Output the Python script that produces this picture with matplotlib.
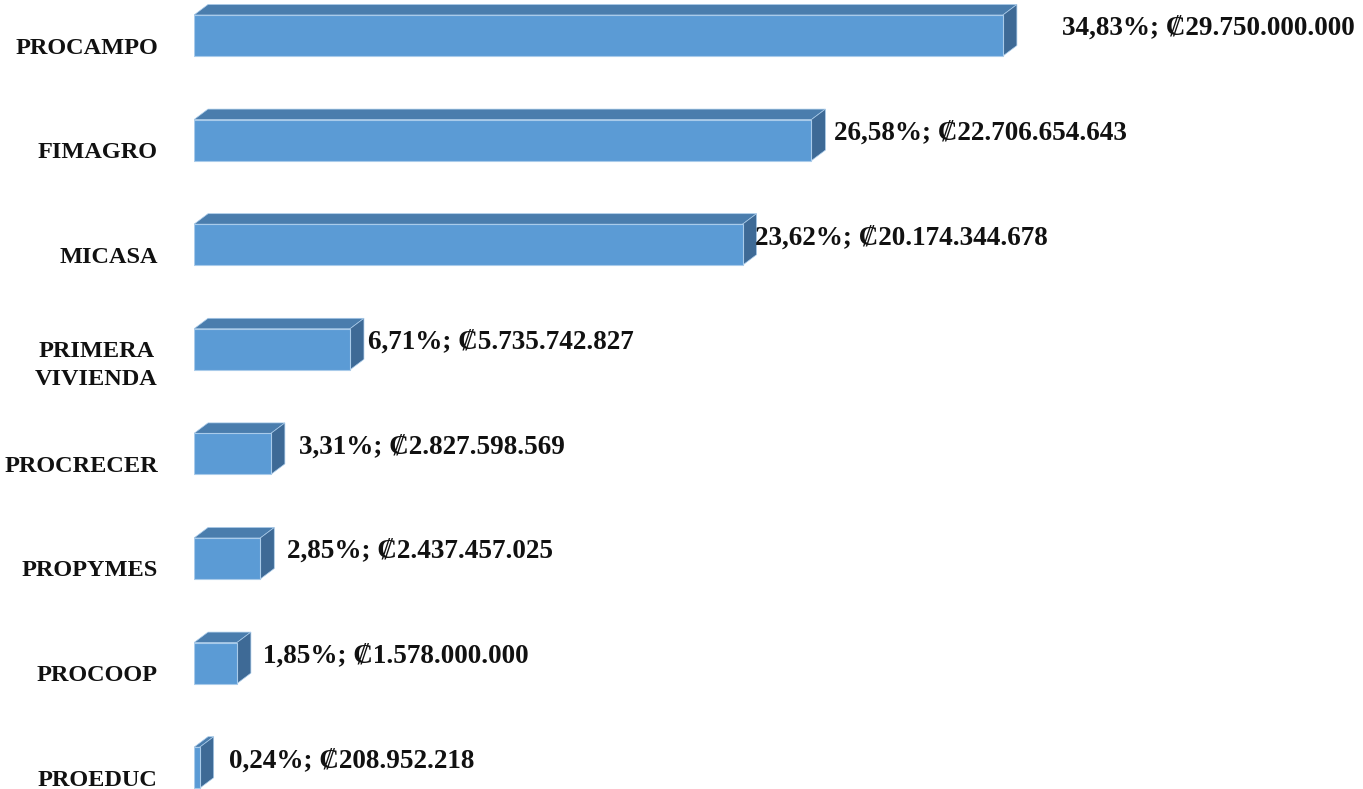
import numpy as np
import matplotlib
matplotlib.use("Agg")
import matplotlib.pyplot as plt
from matplotlib.patches import Polygon
from matplotlib.transforms import ScaledTranslation

programs = ["PROCAMPO", "FIMAGRO", "MICASA", "PRIMERA\nVIVIENDA",
            "PROCRECER", "PROPYMES", "PROCOOP", "PROEDUC"]
amounts = [29750000000, 22706654643, 20174344678, 5735742827,
           2827598569, 2437457025, 1578000000, 208952218]

# label gap after the bar (px), hand-placed in the original
label_gap = [59, 23, 12, 18, 28, 27, 26, 29]

front = "#5B9BD5"
top = "#4A7DAD"
side = "#3E6A96"
edge = "#A9CBEA"
font = ["Liberation Serif", "DejaVu Serif"]

W, H, dpi = 1363, 789, 100
fig = plt.figure(figsize=(W / dpi, H / dpi), dpi=dpi)
left = 194
ax = fig.add_axes([left / W, 0, 1 - left / W, 1])

vals = np.array(amounts) / 1e9
pos = np.arange(len(programs))
px_per_x = 27.19
px_per_row = 104.6
ax.set_xlim(0, (W - left) / px_per_x)
ax.set_ylim((H - 35.5) / px_per_row, -35.5 / px_per_row)

bar_h = 41 / px_per_row
dx = 14 / px_per_x
dy = 10.5 / px_per_row

ax.barh(pos, vals, height=bar_h, color=front, edgecolor=edge, linewidth=0.8, zorder=3)
for p, v in zip(pos, vals):
    y0 = p - bar_h / 2
    y1 = p + bar_h / 2
    ax.add_patch(Polygon([(0, y0), (v, y0), (v + dx, y0 - dy), (dx, y0 - dy)],
                         closed=True, facecolor=top, edgecolor=edge, linewidth=0.5, zorder=2))
    ax.add_patch(Polygon([(v, y0), (v + dx, y0 - dy), (v + dx, y1 - dy), (v, y1)],
                         closed=True, facecolor=side, edgecolor=edge, linewidth=0.5, zorder=2))

total = sum(amounts)
for p, v, a, g in zip(pos, vals, amounts, label_gap):
    pct = f"{a / total * 100:.2f}".replace(".", ",")
    money = f"{a:,}".replace(",", ".")
    ax.annotate(f"{pct}%; \u20a1{money}", xy=(v, p), xytext=(g * 0.72, 7 * 0.72),
                textcoords="offset points", ha="left", va="center",
                fontsize=19.5, fontweight="bold", family=font, color="#111111")

ax.set_yticks(pos)
ax.set_yticklabels(programs)
ax.tick_params(axis="y", length=0, pad=26)
ax.set_xticks([])
shift = ScaledTranslation(0, -10 / dpi, fig.dpi_scale_trans)
for lab in ax.get_yticklabels():
    lab.set_fontsize(17.5)
    lab.set_fontweight("bold")
    lab.set_family(font)
    lab.set_multialignment("center")
    lab.set_linespacing(1.45)
    lab.set_color("#111111")
    lab.set_transform(lab.get_transform() + shift)

for s in ax.spines.values():
    s.set_visible(False)
ax.patch.set_alpha(0)

fig.savefig("out.png", dpi=dpi)
